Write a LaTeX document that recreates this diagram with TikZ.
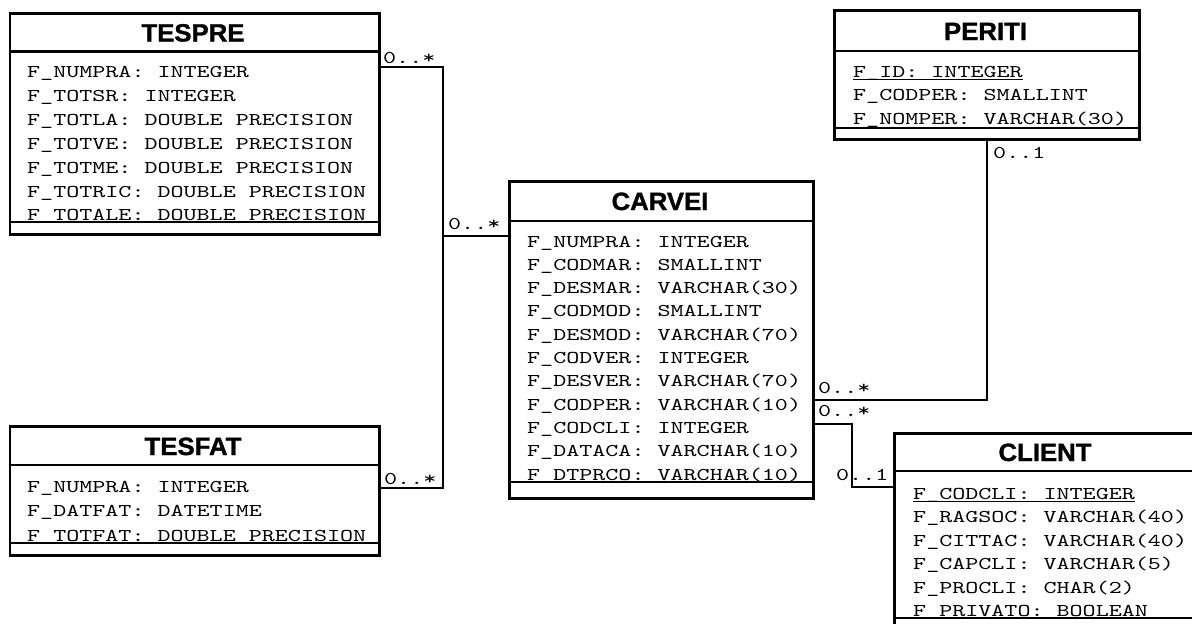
\documentclass[tikz,border=0pt]{standalone}
\usepackage{fontspec}
\newfontfamily\rowfamily{lmmono10-regular.otf}[FakeStretch=1.38]
\newfontfamily\hdrfamily{Liberation Sans}[FakeStretch=1.03, BoldFeatures={FakeBold=1.2}]
\begin{document}
\begin{tikzpicture}[x=1pt,y=-1pt,
  umlbox/.style={draw, line width=2.8pt, inner sep=0pt, anchor=north west, fill=white},
  divider/.style={line width=2.6pt},
  conn/.style={line width=2.6pt},
  row/.style={anchor=base west, inner sep=0pt, font=\rowfamily\fontsize{18}{18}\selectfont},
  mult/.style={anchor=base west, inner sep=0pt, font=\rowfamily\fontsize{18}{18}\selectfont},
  title/.style={anchor=base, inner sep=0pt, font=\hdrfamily\bfseries\fontsize{25}{25}\selectfont},
  ul/.style={line width=1.3pt}]
\useasboundingbox (0,0) rectangle (1192,624);
\fill[white] (0,0) rectangle (1192,624);
\clip (0,0) rectangle (1192,624);

% ---------- boxes ----------
\node[umlbox, minimum width=369.5pt, minimum height=221pt] (tespre) at (8.5,12) {};
\node[umlbox, minimum width=369.5pt, minimum height=129pt] (tesfat) at (8.5,425) {};
\node[umlbox, minimum width=304pt, minimum height=317pt] (carvei) at (508,180) {};
\node[umlbox, minimum width=305pt, minimum height=129pt] (periti) at (833,9) {};
\node[umlbox, minimum width=320pt, minimum height=220pt] (client) at (893,432) {};

% ---------- titles ----------
\node[title] (tespre-t) at (193,41.5) {TESPRE};
\node[title] (tesfat-t) at (193,455) {TESFAT};
\node[title] (carvei-t) at (660,210) {CARVEI};
\node[title] (periti-t) at (985.5,40) {PERITI};
\node[title] (client-t) at (1045,461) {CLIENT};

% ---------- attributes ----------
\foreach \t [count=\i] in {F\_NUMPRA: INTEGER,F\_TOTSR: INTEGER,F\_TOTLA: DOUBLE PRECISION,F\_TOTVE: DOUBLE PRECISION,F\_TOTME: DOUBLE PRECISION,F\_TOTRIC: DOUBLE PRECISION,F\_TOTALE: DOUBLE PRECISION}
  \node[row] (tespre-\i) at (27,{77.5+23.9*(\i-1)}) {\t};

\foreach \t [count=\i] in {F\_NUMPRA: INTEGER,F\_DATFAT: DATETIME,F\_TOTFAT: DOUBLE PRECISION}
  \node[row] (tesfat-\i) at (27,{492+24.5*(\i-1)}) {\t};

\foreach \t [count=\i] in {F\_NUMPRA: INTEGER,F\_CODMAR: SMALLINT,F\_DESMAR: VARCHAR(30),F\_CODMOD: SMALLINT,F\_DESMOD: VARCHAR(70),F\_CODVER: INTEGER,F\_DESVER: VARCHAR(70),F\_CODPER: VARCHAR(10),F\_CODCLI: INTEGER,F\_DATACA: VARCHAR(10),F\_DTPRCO: VARCHAR(10)}
  \node[row] (carvei-\i) at (527,{247+23.3*(\i-1)}) {\t};

\foreach \t [count=\i] in {F\_ID: INTEGER,F\_CODPER: SMALLINT,F\_NOMPER: VARCHAR(30)}
  \node[row] (periti-\i) at (853,{77+23.8*(\i-1)}) {\t};

\foreach \t [count=\i] in {F\_CODCLI: INTEGER,F\_RAGSOC: VARCHAR(40),F\_CITTAC: VARCHAR(40),F\_CAPCLI: VARCHAR(5),F\_PROCLI: CHAR(2),F\_PRIVATO: BOOLEAN}
  \node[row] (client-\i) at (913,{499+23.5*(\i-1)}) {\t};

% primary key underlines
\draw[ul] ([yshift=-2.5pt]periti-1.base west) -- ([yshift=-2.5pt]periti-1.base east);
\draw[ul] ([yshift=-2.5pt]client-1.base west) -- ([yshift=-2.5pt]client-1.base east);

% ---------- dividers ----------
\draw[divider] (tespre.west |- 0,51.5) -- (tespre.east |- 0,51.5);
\draw[divider] (tespre.west |- 0,222) -- (tespre.east |- 0,222);
\draw[divider] (tesfat.west |- 0,465) -- (tesfat.east |- 0,465);
\draw[divider] (tesfat.west |- 0,543) -- (tesfat.east |- 0,543);
\draw[divider] (carvei.west |- 0,221) -- (carvei.east |- 0,221);
\draw[divider] (carvei.west |- 0,482) -- (carvei.east |- 0,482);
\draw[divider] (periti.west |- 0,51) -- (periti.east |- 0,51);
\draw[divider] (periti.west |- 0,128) -- (periti.east |- 0,128);
\draw[divider] (client.west |- 0,471) -- (client.east |- 0,471);
\draw[divider] (client.west |- 0,618) -- (client.east |- 0,618);

% ---------- connectors ----------
\coordinate (jL) at (443,236);
\draw[conn] (tespre.east |- 0,67) -| (jL) -- (carvei.west |- jL);
\draw[conn] (tesfat.east |- 0,488) -| (jL);
\coordinate (jP) at (987,400);
\draw[conn] (carvei.east |- jP) -- (jP) -- (periti.south -| jP);
\coordinate (jC1) at (852,424);
\coordinate (jC2) at (852,487);
\draw[conn] (carvei.east |- jC1) -- (jC1) -- (jC2) -- (client.west |- jC2);

% ---------- multiplicities ----------
\node[mult] (m1) at (383,63) {0..*};
\node[mult] (m2) at (448,229) {0..*};
\node[mult] (m3) at (384,484) {0..*};
\node[mult] (m4) at (818,393) {0..*};
\node[mult] (m5) at (993,158) {0..1};
\node[mult] (m6) at (818,416) {0..*};
\node[mult] (m7) at (836,480) {0..1};
\end{tikzpicture}
\end{document}
